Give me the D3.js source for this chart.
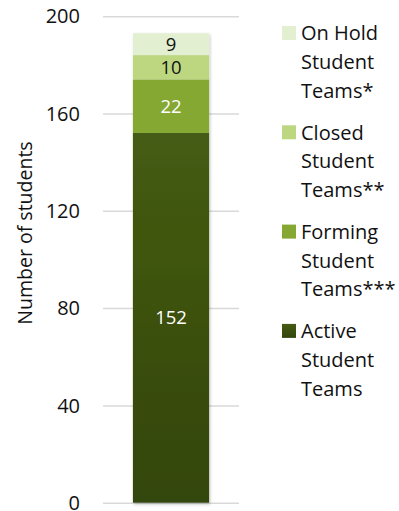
<!DOCTYPE html>
<html>
<head>
<meta charset="utf-8">
<script src="https://cdn.jsdelivr.net/npm/d3@7"></script>
<style>
  html, body { margin: 0; padding: 0; background: #fff; }
  svg text { font-family: "Open Sans", Lato, sans-serif; }
</style>
</head>
<body>
<svg id="chart" width="399" height="511"></svg>
<script>
// Student team counts, stacked bottom to top
const categories = ["Active Student Teams", "Forming Student Teams***", "Closed Student Teams**", "On Hold Student Teams*"];
const legendLines = [
  ["Active", "Student", "Teams"],
  ["Forming", "Student", "Teams***"],
  ["Closed", "Student", "Teams**"],
  ["On Hold", "Student", "Teams*"]
];
const values = [152, 22, 10, 9];
const colors = ["#3f5410", "#84a832", "#bdd780", "#e2efd0"];
const labelColors = ["#ffffff", "#ffffff", "#111111", "#111111"];
const yTicks = [0, 40, 80, 120, 160, 200];

const svg = d3.select("#chart");
const defs = svg.append("defs");

const grad = defs.append("linearGradient")
  .attr("id", "activeGrad").attr("x1", 0).attr("y1", 0).attr("x2", 0).attr("y2", 1);
grad.append("stop").attr("offset", "0%").attr("stop-color", "#455c12");
grad.append("stop").attr("offset", "100%").attr("stop-color", "#33460e");

const shadow = defs.append("filter").attr("id", "barShadow")
  .attr("x", "-20%").attr("y", "-10%").attr("width", "140%").attr("height", "120%");
shadow.append("feDropShadow").attr("dx", 1).attr("dy", 1.5).attr("stdDeviation", 1.5)
  .attr("flood-color", "#000").attr("flood-opacity", 0.25);

const plot = { left: 103, right: 239, top: 16.2, bottom: 502.7 };

const y = d3.scaleLinear().domain([0, 200]).range([plot.bottom, plot.top]);
const x = d3.scaleBand().domain(["all"]).range([plot.left, plot.right]).paddingInner(0.44).paddingOuter(0.22);

// Gridlines and tick labels
const yAxis = d3.axisLeft(y).tickValues(yTicks).tickSize(-(plot.right - plot.left)).tickPadding(23);
const axisG = svg.append("g").attr("transform", `translate(${plot.left},0)`).call(yAxis);
axisG.select(".domain").remove();
axisG.selectAll(".tick line").attr("stroke", "#d9d9d9").attr("stroke-width", 1.5);
axisG.selectAll(".tick text").attr("fill", "#111").style("font-size", "20px").attr("dy", "0.33em");

// Stacked segments
const stackData = [];
let acc = 0;
values.forEach((v, i) => { stackData.push({ i, y0: acc, y1: acc + v, v }); acc += v; });

const bw = x.bandwidth();
const bx = x("all");
const barG = svg.append("g").attr("filter", "url(#barShadow)");
barG.selectAll("rect").data(stackData).join("rect")
  .attr("x", bx).attr("width", bw)
  .attr("y", d => y(d.y1)).attr("height", d => y(d.y0) - y(d.y1))
  .attr("fill", d => d.i === 0 ? "url(#activeGrad)" : colors[d.i]);

svg.append("g").selectAll("text").data(stackData).join("text")
  .attr("x", bx + bw / 2)
  .attr("y", d => (y(d.y0) + y(d.y1)) / 2)
  .attr("dy", "0.36em")
  .attr("text-anchor", "middle")
  .attr("fill", d => labelColors[d.i])
  .style("font-size", "18.5px")
  .text(d => d.v);

// Y axis title
svg.append("text")
  .attr("transform", "translate(32,233) rotate(-90)")
  .attr("text-anchor", "middle")
  .attr("fill", "#111")
  .style("font-size", "19.5px")
  .text("Number of students");

// Legend, top entry first
const legendOrder = [3, 2, 1, 0];
const legend = svg.append("g");
legendOrder.forEach((idx, k) => {
  const top = 33 + k * 99.3;
  legend.append("rect")
    .attr("x", 282).attr("y", top - 7).attr("width", 14).attr("height", 14)
    .attr("fill", idx === 0 ? "url(#activeGrad)" : colors[idx]);
  legend.append("text")
    .attr("x", 301).attr("fill", "#111").style("font-size", "20px")
    .selectAll("tspan").data(legendLines[idx]).join("tspan")
    .attr("x", 301)
    .attr("y", (d, j) => top + j * 28.7)
    .attr("dy", "0.36em")
    .text(d => d);
});
</script>
</body>
</html>
